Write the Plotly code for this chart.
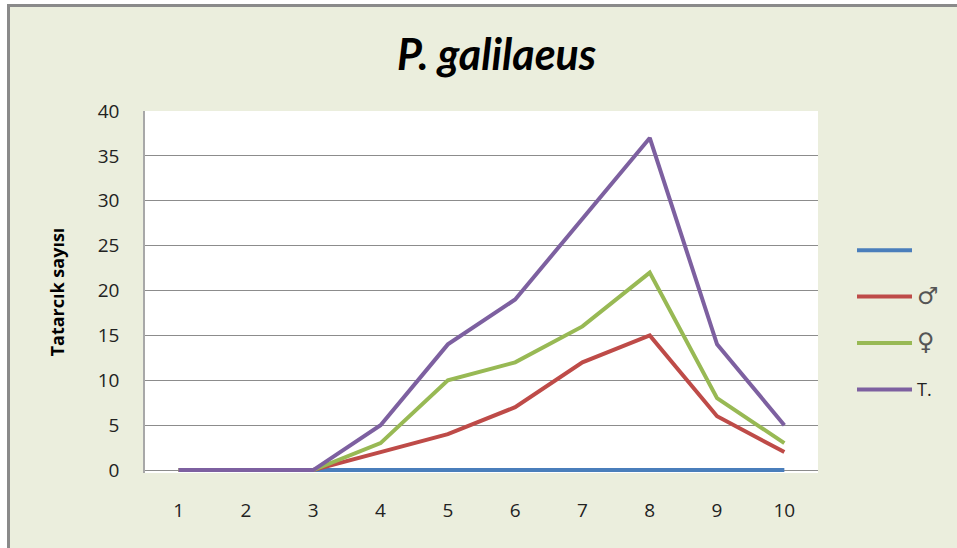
import plotly.graph_objects as go

categories = ["1", "2", "3", "4", "5", "6", "7", "8", "9", "10"]
series_names = [" ",
                "<span style='font-family:DejaVu Sans;font-size:24px;color:#555'>♂</span>",
                "<span style='font-family:DejaVu Sans;font-size:24px;color:#555'>♀</span>",
                "T."]
blank_vals = [0, 0, 0, 0, 0, 0, 0, 0, 0, 0]
male_vals = [0, 0, 0, 2, 4, 7, 12, 15, 6, 2]
female_vals = [0, 0, 0, 3, 10, 12, 16, 22, 8, 3]
total_vals = [0, 0, 0, 5, 14, 19, 28, 37, 14, 5]
y_ticks = [0, 5, 10, 15, 20, 25, 30, 35, 40]

colors = ["#4A7EBB", "#BE4B48", "#98B954", "#7D60A0"]
values = [blank_vals, male_vals, female_vals, total_vals]

W, H = 957, 548
L, R, T, B = 145, 818, 111, 473

fig = go.Figure()
for i, (name, vals, col) in enumerate(zip(series_names, values, colors)):
    fig.add_trace(go.Scatter(
        x=categories, y=vals, name=name, mode="lines",
        line=dict(color=col, width=4), legendgroup=str(i),
    ))

pw = R - L
ph = B - T
def px(x):
    return (x - L) / pw
def py(y):
    return (B - y) / ph

fig.update_layout(
    width=W, height=H,
    margin=dict(l=L, r=W - R, t=T, b=H - B),
    paper_bgcolor="#EBEEDD",
    plot_bgcolor="white",
    font=dict(family="Open Sans, sans-serif", color="#222"),
    title=dict(text="<b><i>P. galilaeus</i></b>", x=0.519, xanchor="center",
               y=1 - 55 / H, yanchor="middle",
               font=dict(size=43, color="black", family="Lato, Open Sans, sans-serif")),
    showlegend=True,
    legend=dict(x=px(852), xanchor="left", y=py(232), yanchor="top",
                bgcolor="rgba(0,0,0,0)", font=dict(size=18, color="#222"),
                tracegroupgap=20, itemwidth=55),
    xaxis=dict(type="category", range=[-0.5, 9.5], showgrid=False,
               showline=False, ticks="", zeroline=False,
               tickfont=dict(size=19, color="#222"), ticklabelstandoff=24),
    yaxis=dict(range=[-0.33, 40], tickvals=y_ticks, showgrid=True,
               gridcolor="#8C8C8C", gridwidth=1, zeroline=False,
               showline=True, linecolor="#A8A8A8", linewidth=1.5,
               tickfont=dict(size=19, color="#222"), ticks="",
               ticklabelstandoff=20,
               title=dict(text="<b>Tatarcık sayısı</b>", standoff=28,
                          font=dict(size=18, color="black"))),
    shapes=[
        dict(type="rect", xref="paper", yref="paper", layer="above",
             x0=px(0), x1=px(W), y0=py(0), y1=py(4),
             fillcolor="white", line=dict(width=0)),
        dict(type="rect", xref="paper", yref="paper", layer="above",
             x0=px(0), x1=px(7), y0=py(0), y1=py(H),
             fillcolor="white", line=dict(width=0)),
        dict(type="line", xref="paper", yref="paper", layer="above",
             x0=px(7), x1=px(W), y0=py(5.5), y1=py(5.5),
             line=dict(color="#8A8A8A", width=3)),
        dict(type="line", xref="paper", yref="paper", layer="above",
             x0=px(8.5), x1=px(8.5), y0=py(4), y1=py(H),
             line=dict(color="#8A8A8A", width=3)),
    ],
)

fig.write_html(
    "out.html", config={"displayModeBar": False},
    post_script=("document.body.style.margin='0';"
                 "document.body.style.overflow='hidden';"
                 "document.documentElement.style.overflow='hidden';"
                 "window.scrollTo(0,0);"))
